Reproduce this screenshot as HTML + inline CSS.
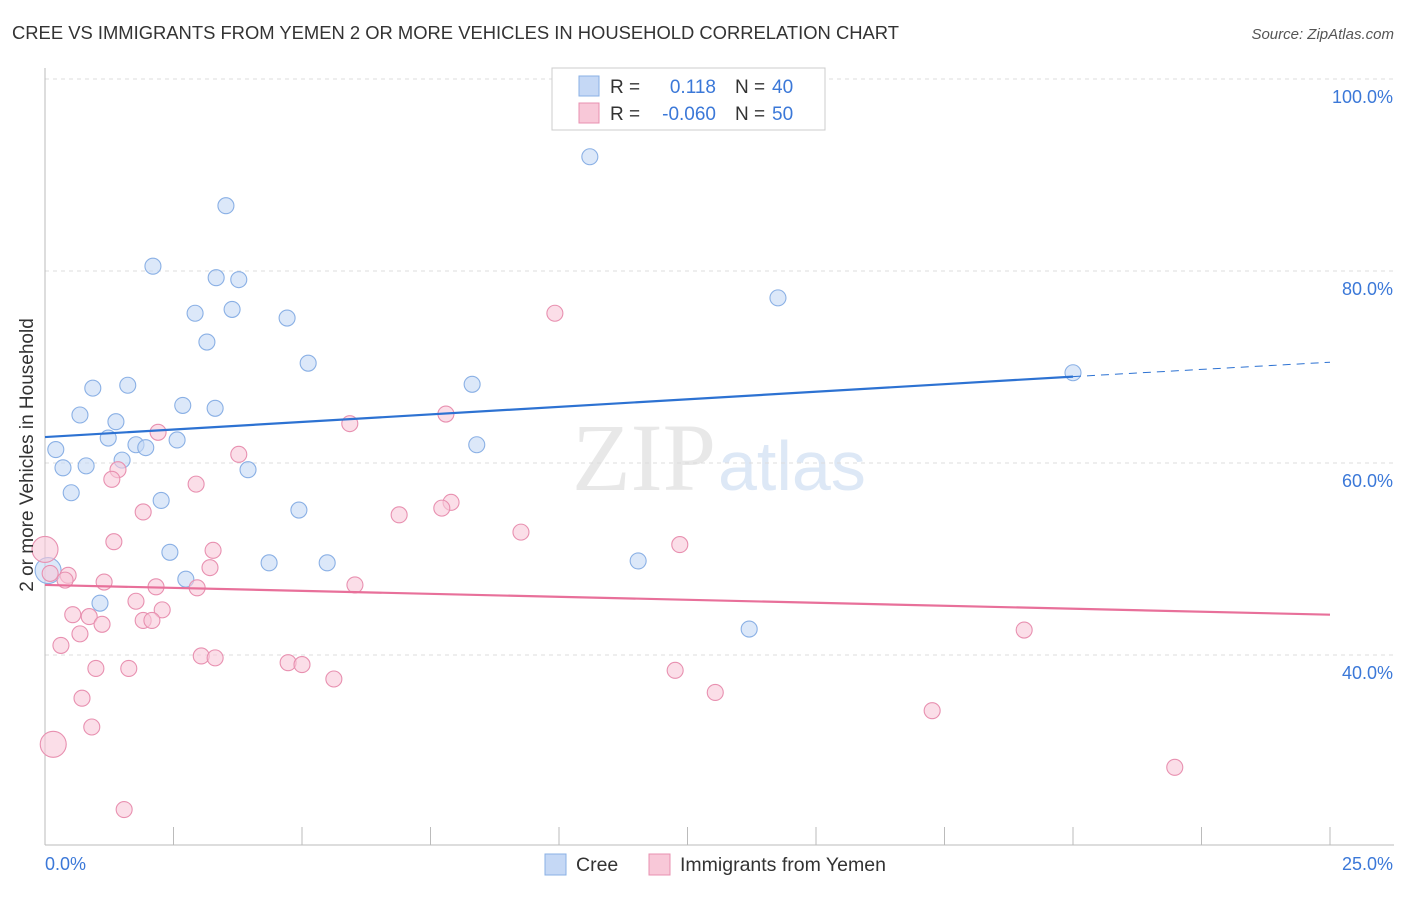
<!DOCTYPE html>
<html><head><meta charset="utf-8"><style>
body{margin:0;background:#fff;font-family:"Liberation Sans",sans-serif}
</style></head><body>
<svg id="c" width="1406" height="892" xmlns="http://www.w3.org/2000/svg">
<text x="12" y="39" font-size="18.4" fill="#333">CREE VS IMMIGRANTS FROM YEMEN 2 OR MORE VEHICLES IN HOUSEHOLD CORRELATION CHART</text>
<text x="1394" y="39" font-size="15" fill="#555" text-anchor="end" font-style="italic">Source: ZipAtlas.com</text>
<text x="716" y="490" font-size="96" fill="#e8e8e8" text-anchor="end" font-family="Liberation Serif">ZIP</text>
<text x="718" y="490" font-size="70" fill="#dde8f6">atlas</text>
<g id="grid"></g><g id="ax"></g><g id="pts"></g>
<text transform="translate(33,455) rotate(-90)" font-size="19" fill="#333" text-anchor="middle">2 or more Vehicles in Household</text>
<g>
<rect x="552" y="68" width="273" height="62" fill="#fff" stroke="#ccc"/>
<rect x="579" y="76" width="20" height="20" fill="#c5d8f5" stroke="#8ab0e5"/>
<rect x="579" y="103" width="20" height="20" fill="#f8c8d8" stroke="#e890b0"/>
<text x="610" y="93" font-size="19" fill="#333">R =</text><text x="716" y="93" font-size="19" fill="#3b78d8" text-anchor="end">0.118</text>
<text x="735" y="93" font-size="19" fill="#333">N =</text><text x="772" y="93" font-size="19" fill="#3b78d8">40</text>
<text x="610" y="120" font-size="19" fill="#333">R =</text><text x="716" y="120" font-size="19" fill="#3b78d8" text-anchor="end">-0.060</text>
<text x="735" y="120" font-size="19" fill="#333">N =</text><text x="772" y="120" font-size="19" fill="#3b78d8">50</text>
</g>
<g>
<rect x="545" y="854" width="21" height="21" fill="#c5d8f5" stroke="#8ab0e5"/><text x="576" y="871" font-size="19.5" fill="#333">Cree</text>
<rect x="649" y="854" width="21" height="21" fill="#f8c8d8" stroke="#e890b0"/><text x="680" y="871" font-size="19.5" fill="#333">Immigrants from Yemen</text>
</g>
</svg>
<script>
const creeX=[10.6,3.52,2.1,3.33,3.77,14.26,2.92,3.64,4.71,3.15,5.12,20.0,0.93,1.61,8.31,0.68,2.68,3.31,1.38,1.23,2.57,1.77,1.96,0.21,8.4,1.5,0.35,0.8,3.95,0.51,2.26,4.94,2.43,4.36,5.49,11.54,2.74,0.06,1.07,13.7];
const creeY=[91.9,86.8,80.5,79.3,79.1,77.2,75.6,76.0,75.1,72.6,70.4,69.4,67.8,68.1,68.2,65.0,66.0,65.7,64.3,62.6,62.4,61.9,61.6,61.4,61.9,60.3,59.5,59.7,59.3,56.9,56.1,55.1,50.7,49.6,49.6,49.8,47.9,48.8,45.4,42.7];
const yemX=[9.92,7.8,5.93,2.2,3.77,1.42,1.3,2.94,7.9,7.72,1.91,6.89,9.26,1.34,12.35,3.27,0,3.21,0.45,0.39,1.15,2.16,2.96,6.03,1.77,2.28,0.54,0.86,1.91,2.08,1.11,0.68,19.05,0.31,3.04,3.31,4.73,5.0,0.99,1.63,12.26,5.62,13.04,0.72,17.26,0.91,0.16,21.98,1.54,0.1];
const yemY=[75.6,65.1,64.1,63.2,60.9,59.3,58.3,57.8,55.9,55.3,54.9,54.6,52.8,51.8,51.5,50.9,51.0,49.1,48.3,47.8,47.6,47.1,47.0,47.3,45.6,44.7,44.2,44.0,43.6,43.6,43.2,42.2,42.6,41.0,39.9,39.7,39.2,39.0,38.6,38.6,38.4,37.5,36.1,35.5,34.2,32.5,30.7,28.3,23.9,48.5];
const creeBig=[37], yemBig=[16,46];
const yTicks=[40,60,80,100], yTickLabels=["40.0%","60.0%","80.0%","100.0%"];
const creeTrend=[[0,62.7],[20,69.0],[25,70.5]], yemTrend=[[0,47.3],[25,44.2]];
const NS="http://www.w3.org/2000/svg";
const X=v=>45+v/25*1285, Y=v=>79+(100-v)*9.6;
function mk(p,t,a){const e=document.createElementNS(NS,t);for(const k in a)e.setAttribute(k,a[k]);document.getElementById(p).appendChild(e);return e;}
yTicks.forEach((t,i)=>{const g=mk('grid','line',{x1:45,x2:1394,y1:Y(t),y2:Y(t),stroke:'#ddd','stroke-dasharray':'4,4'});

const l=mk('grid','text',{x:1393,y:Y(t)+24,'font-size':18,fill:'#3b78d8','text-anchor':'end'});l.textContent=yTickLabels[i];
});
let a=mk('ax','line',{x1:45,x2:1394,y1:845,y2:845,stroke:'#bbb'});
a=mk('ax','line',{x1:45,x2:45,y1:68,y2:845,stroke:'#bbb'});
for(let i=0;i<=10;i++){const t=mk('ax','line',{x1:X(i*2.5),x2:X(i*2.5),y1:827,y2:845,stroke:'#bbb'});}
let t=mk('ax','text',{x:45,y:870,'font-size':18,fill:'#3b78d8'});t.textContent='0.0%';
t=mk('ax','text',{x:1393,y:870,'font-size':18,fill:'#3b78d8','text-anchor':'end'});t.textContent='25.0%';
function dots(xs,ys,big,f,s,n){xs.forEach((x,i)=>{const c=mk('pts','circle',{cx:X(x),cy:Y(ys[i]),r:big.includes(i)?13:8,fill:f,'fill-opacity':0.6,stroke:s,'stroke-width':1.1});
});}
dots(creeX,creeY,creeBig,'#c5d8f5','#8ab0e5','cree-point');
dots(yemX,yemY,yemBig,'#f8c8d8','#e890b0','yemen-point');
let l=mk('pts','line',{x1:X(creeTrend[0][0]),y1:Y(creeTrend[0][1]),x2:X(creeTrend[1][0]),y2:Y(creeTrend[1][1]),stroke:'#2d72d2','stroke-width':2.2});

l=mk('pts','line',{x1:X(creeTrend[1][0]),y1:Y(creeTrend[1][1]),x2:X(creeTrend[2][0]),y2:Y(creeTrend[2][1]),stroke:'#2d72d2','stroke-width':1,'stroke-dasharray':'8,6'});

l=mk('pts','line',{x1:X(yemTrend[0][0]),y1:Y(yemTrend[0][1]),x2:X(yemTrend[1][0]),y2:Y(yemTrend[1][1]),stroke:'#e8709a','stroke-width':2.2});

</script>
</body></html>
